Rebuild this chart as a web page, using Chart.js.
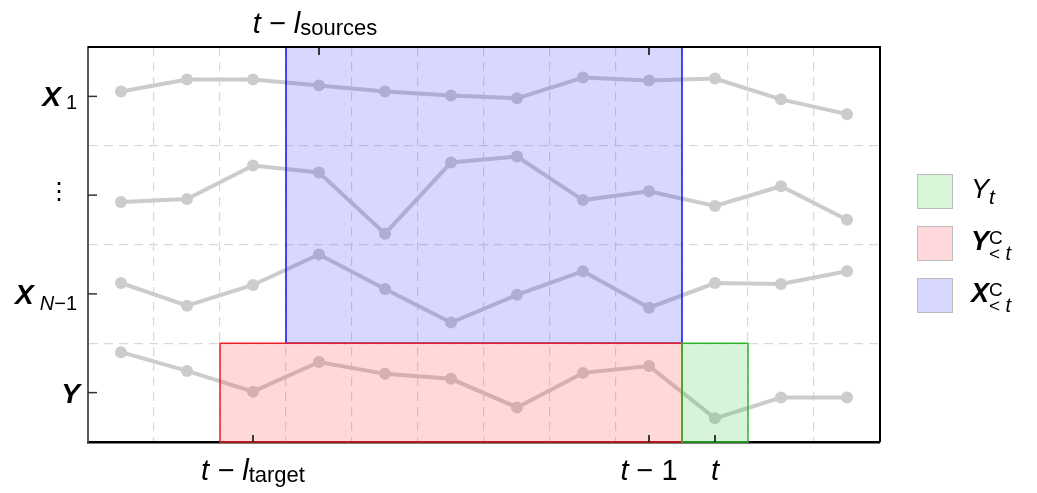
<!DOCTYPE html>
<html>
<head>
<meta charset="utf-8">
<script src="https://cdn.jsdelivr.net/npm/chart.js@4"></script>
<style>
  html, body { margin: 0; padding: 0; background: #fff; }
  #wrap { width: 1037px; height: 493px; }
</style>
</head>
<body>
<div id="wrap"><canvas id="c" width="1037" height="493"></canvas></div>
<script>
// ---- data ----
const timeSteps = [0.5, 1.5, 2.5, 3.5, 4.5, 5.5, 6.5, 7.5, 8.5, 9.5, 10.5, 11.5];
const x1Values  = [3.55, 3.67, 3.67, 3.61, 3.55, 3.51, 3.48, 3.69, 3.66, 3.68, 3.47, 3.32];
const dotValues = [2.43, 2.46, 2.80, 2.73, 2.11, 2.83, 2.89, 2.45, 2.54, 2.39, 2.59, 2.25];
const xn1Values = [1.61, 1.38, 1.59, 1.90, 1.55, 1.21, 1.49, 1.73, 1.36, 1.61, 1.60, 1.73];
const yValues   = [0.91, 0.72, 0.51, 0.81, 0.69, 0.64, 0.35, 0.70, 0.77, 0.24, 0.45, 0.45];

const rowTicks = [3.5, 2.5, 1.5, 0.5];             // X1, ⋮, X_{N-1}, Y
const bottomTicks = [2.5, 8.5, 9.5];               // t-l_target, t-1, t
const topTicks = [3.5, 8.5];                       // t-l_sources, (t-1)

// boxes: [xFrom, xTo, yFrom, yTo]
const sourcesBox = [3, 9, 1, 4];
const targetBox  = [2, 9, 0, 1];
const currentBox = [9, 10, 0, 1];

const F = '"Liberation Sans", Arial, Helvetica, sans-serif';

function toPts(vals) { return timeSteps.map((x, i) => ({ x: x, y: vals[i] })); }

function font(style, size) {
  const s = style === 'bi' ? 'italic bold ' : style === 'i' ? 'italic ' : style === 'b' ? 'bold ' : '';
  return s + size + 'px ' + F;
}
function segWidth(ctx, s) {
  if (s.stack) {
    ctx.font = s.supF; const a = ctx.measureText(s.stack.sup).width;
    ctx.font = s.subF; const b = ctx.measureText(s.stack.sub).width;
    return Math.max(a, b);
  }
  ctx.font = s.f;
  return ctx.measureText(s.t).width + (s.k || 0);
}
function drawRich(ctx, segs, x, y, align) {
  const w = segs.reduce((a, s) => a + segWidth(ctx, s), 0);
  let cx = align === 'center' ? x - w / 2 : align === 'right' ? x - w : x;
  ctx.textAlign = 'left';
  ctx.textBaseline = 'alphabetic';
  ctx.fillStyle = '#000';
  segs.forEach(s => {
    if (s.stack) {
      ctx.font = s.supF; ctx.fillText(s.stack.sup, cx, y + s.supDy);
      let sx = cx;
      s.stack.subParts.forEach(p => {
        ctx.font = p.f; ctx.fillText(p.t, sx, y + s.subDy);
        sx += ctx.measureText(p.t).width;
      });
    } else {
      ctx.font = s.f;
      ctx.fillText(s.t, cx, y + (s.dy || 0));
    }
    cx += segWidth(ctx, s);
  });
}

const decor = {
  id: 'decor',
  afterDatasetsDraw(chart) {
    const ctx = chart.ctx, xs = chart.scales.x, ys = chart.scales.y;
    const boxes = [
      { b: sourcesBox, fill: 'rgba(40,40,255,0.18)', stroke: '#1010ff' },
      { b: targetBox,  fill: 'rgba(255,60,60,0.20)', stroke: '#e8202a' },
      { b: currentBox, fill: 'rgba(60,200,60,0.20)', stroke: '#2cb82c' }
    ];
    ctx.save();
    boxes.forEach(o => {
      const x0 = xs.getPixelForValue(o.b[0]), x1 = xs.getPixelForValue(o.b[1]);
      const y0 = ys.getPixelForValue(o.b[3]), y1 = ys.getPixelForValue(o.b[2]);
      ctx.fillStyle = o.fill;
      ctx.fillRect(x0, y0, x1 - x0, y1 - y0);
      ctx.strokeStyle = o.stroke;
      ctx.lineWidth = 1.5;
      ctx.strokeRect(x0, y0, x1 - x0, y1 - y0);
    });
    ctx.restore();
  },
  afterDraw(chart) {
    const ctx = chart.ctx, xs = chart.scales.x, ys = chart.scales.y, a = chart.chartArea;
    ctx.save();
    // frame top & right
    ctx.strokeStyle = '#000';
    ctx.lineWidth = 2;
    ctx.beginPath();
    ctx.moveTo(a.left, a.top); ctx.lineTo(a.right, a.top); ctx.lineTo(a.right, a.bottom);
    ctx.stroke();
    // ticks
    ctx.lineWidth = 1.5;
    ctx.strokeStyle = '#000';
    bottomTicks.forEach(v => {
      const px = xs.getPixelForValue(v);
      ctx.beginPath(); ctx.moveTo(px, a.bottom); ctx.lineTo(px, a.bottom - 7); ctx.stroke();
    });
    topTicks.forEach(v => {
      const px = xs.getPixelForValue(v);
      ctx.beginPath(); ctx.moveTo(px, a.top); ctx.lineTo(px, a.top + 8); ctx.stroke();
    });
    ctx.strokeStyle = '#333';
    rowTicks.forEach(v => {
      const py = ys.getPixelForValue(v);
      ctx.beginPath(); ctx.moveTo(a.left, py); ctx.lineTo(a.left + 9, py); ctx.stroke();
    });

    const M = 29, S = 22;
    // y labels
    const YM = 28, YS = 20;
    const yl = [
      [{ t: 'X', f: font('bi', YM), k: 5 }, { t: '1', f: font('r', YS), dy: 3 }],
      null,
      [{ t: 'X', f: font('bi', YM), k: 6 }, { t: 'N', f: font('i', YS), dy: 6 }, { t: '−1', f: font('r', YS), dy: 6 }],
      [{ t: 'Y', f: font('bi', YM), k: -3 }]
    ];
    rowTicks.forEach((v, i) => {
      const py = ys.getPixelForValue(v);
      if (yl[i]) {
        drawRich(ctx, yl[i], 77, py + 10, 'right');
      } else {
        ctx.font = '24px "DejaVu Sans"';
        ctx.textAlign = 'center';
        ctx.textBaseline = 'middle';
        ctx.fillStyle = '#000';
        ctx.fillText('⋮', 59, py - 2);
      }
    });
    // bottom labels
    const bl = [
      [{ t: 't − ', f: font('i', M) }, { t: 'l', f: font('i', M) }, { t: 'target', f: font('r', S), dy: 2 }],
      [{ t: 't', f: font('i', M) }, { t: ' − 1', f: font('r', M) }],
      [{ t: 't', f: font('i', M) }]
    ];
    bottomTicks.forEach((v, i) => {
      drawRich(ctx, bl[i], xs.getPixelForValue(v), 480, 'center');
    });
    // top label
    drawRich(ctx, [{ t: 't − ', f: font('i', M) }, { t: 'l', f: font('i', M) }, { t: 'sources', f: font('r', S), dy: 2 }],
      xs.getPixelForValue(topTicks[0]) - 4, 33, 'center');

    // legend
    const LM = 27;
    const stackSeg = { stack: { sup: 'C', sub: '<t', subParts: [{ t: '< ', f: font('r', 19) }, { t: 't', f: font('i', 20) }] },
                       supF: font('r', 19), subF: font('r', 20), supDy: -6, subDy: 10 };
    const leg = [
      { fill: 'rgb(216,245,216)', segs: [{ t: 'Y', f: font('i', LM), k: 0 }, { t: 't', f: font('i', 21), dy: 6 }] },
      { fill: 'rgb(254,216,218)', segs: [{ t: 'Y', f: font('bi', LM), k: 0 }, stackSeg] },
      { fill: 'rgb(216,216,254)', segs: [{ t: 'X', f: font('bi', LM), k: 0 }, stackSeg] }
    ];
    leg.forEach((o, i) => {
      const top = 174 + i * 52;
      ctx.fillStyle = o.fill;
      ctx.fillRect(917, top, 36, 35);
      ctx.strokeStyle = '#bdbdbd';
      ctx.lineWidth = 1;
      ctx.strokeRect(917.5, top + 0.5, 35, 34);
      drawRich(ctx, o.segs, 971, top + 24, 'left');
    });
    ctx.restore();
  }
};

function ds(vals) {
  return {
    data: toPts(vals),
    borderColor: '#cccccc',
    backgroundColor: '#cccccc',
    borderWidth: 4,
    pointRadius: 6,
    pointHoverRadius: 6,
    pointBorderWidth: 0,
    tension: 0
  };
}

new Chart(document.getElementById('c'), {
  type: 'line',
  data: { datasets: [ds(x1Values), ds(dotValues), ds(xn1Values), ds(yValues)] },
  options: {
    responsive: false,
    animation: false,
    devicePixelRatio: 1,
    layout: { padding: { left: 88, right: 157, top: 47, bottom: 51 } },
    plugins: { legend: { display: false }, tooltip: { enabled: false } },
    scales: {
      x: {
        type: 'linear', min: 0, max: 12,
        ticks: { display: false, stepSize: 1 },
        afterFit: s => { s.height = 0; },
        grid: {
          drawTicks: false,
          color: c => (c.tick.value === 0 || c.tick.value === 12) ? 'rgba(0,0,0,0)' : '#d9d9d9',
          lineWidth: 1.2
        },
        border: { display: true, color: '#000', width: 2.5, dash: [9, 6] }
      },
      y: {
        type: 'linear', min: 0, max: 4,
        ticks: { display: false, stepSize: 1 },
        afterFit: s => { s.width = 0; },
        grid: {
          drawTicks: false,
          color: c => (c.tick.value === 0 || c.tick.value === 4) ? 'rgba(0,0,0,0)' : '#d9d9d9',
          lineWidth: 1.2
        },
        border: { display: true, color: '#5a5a5a', width: 2, dash: [9, 6] }
      }
    }
  },
  plugins: [decor]
});
</script>
</body>
</html>
